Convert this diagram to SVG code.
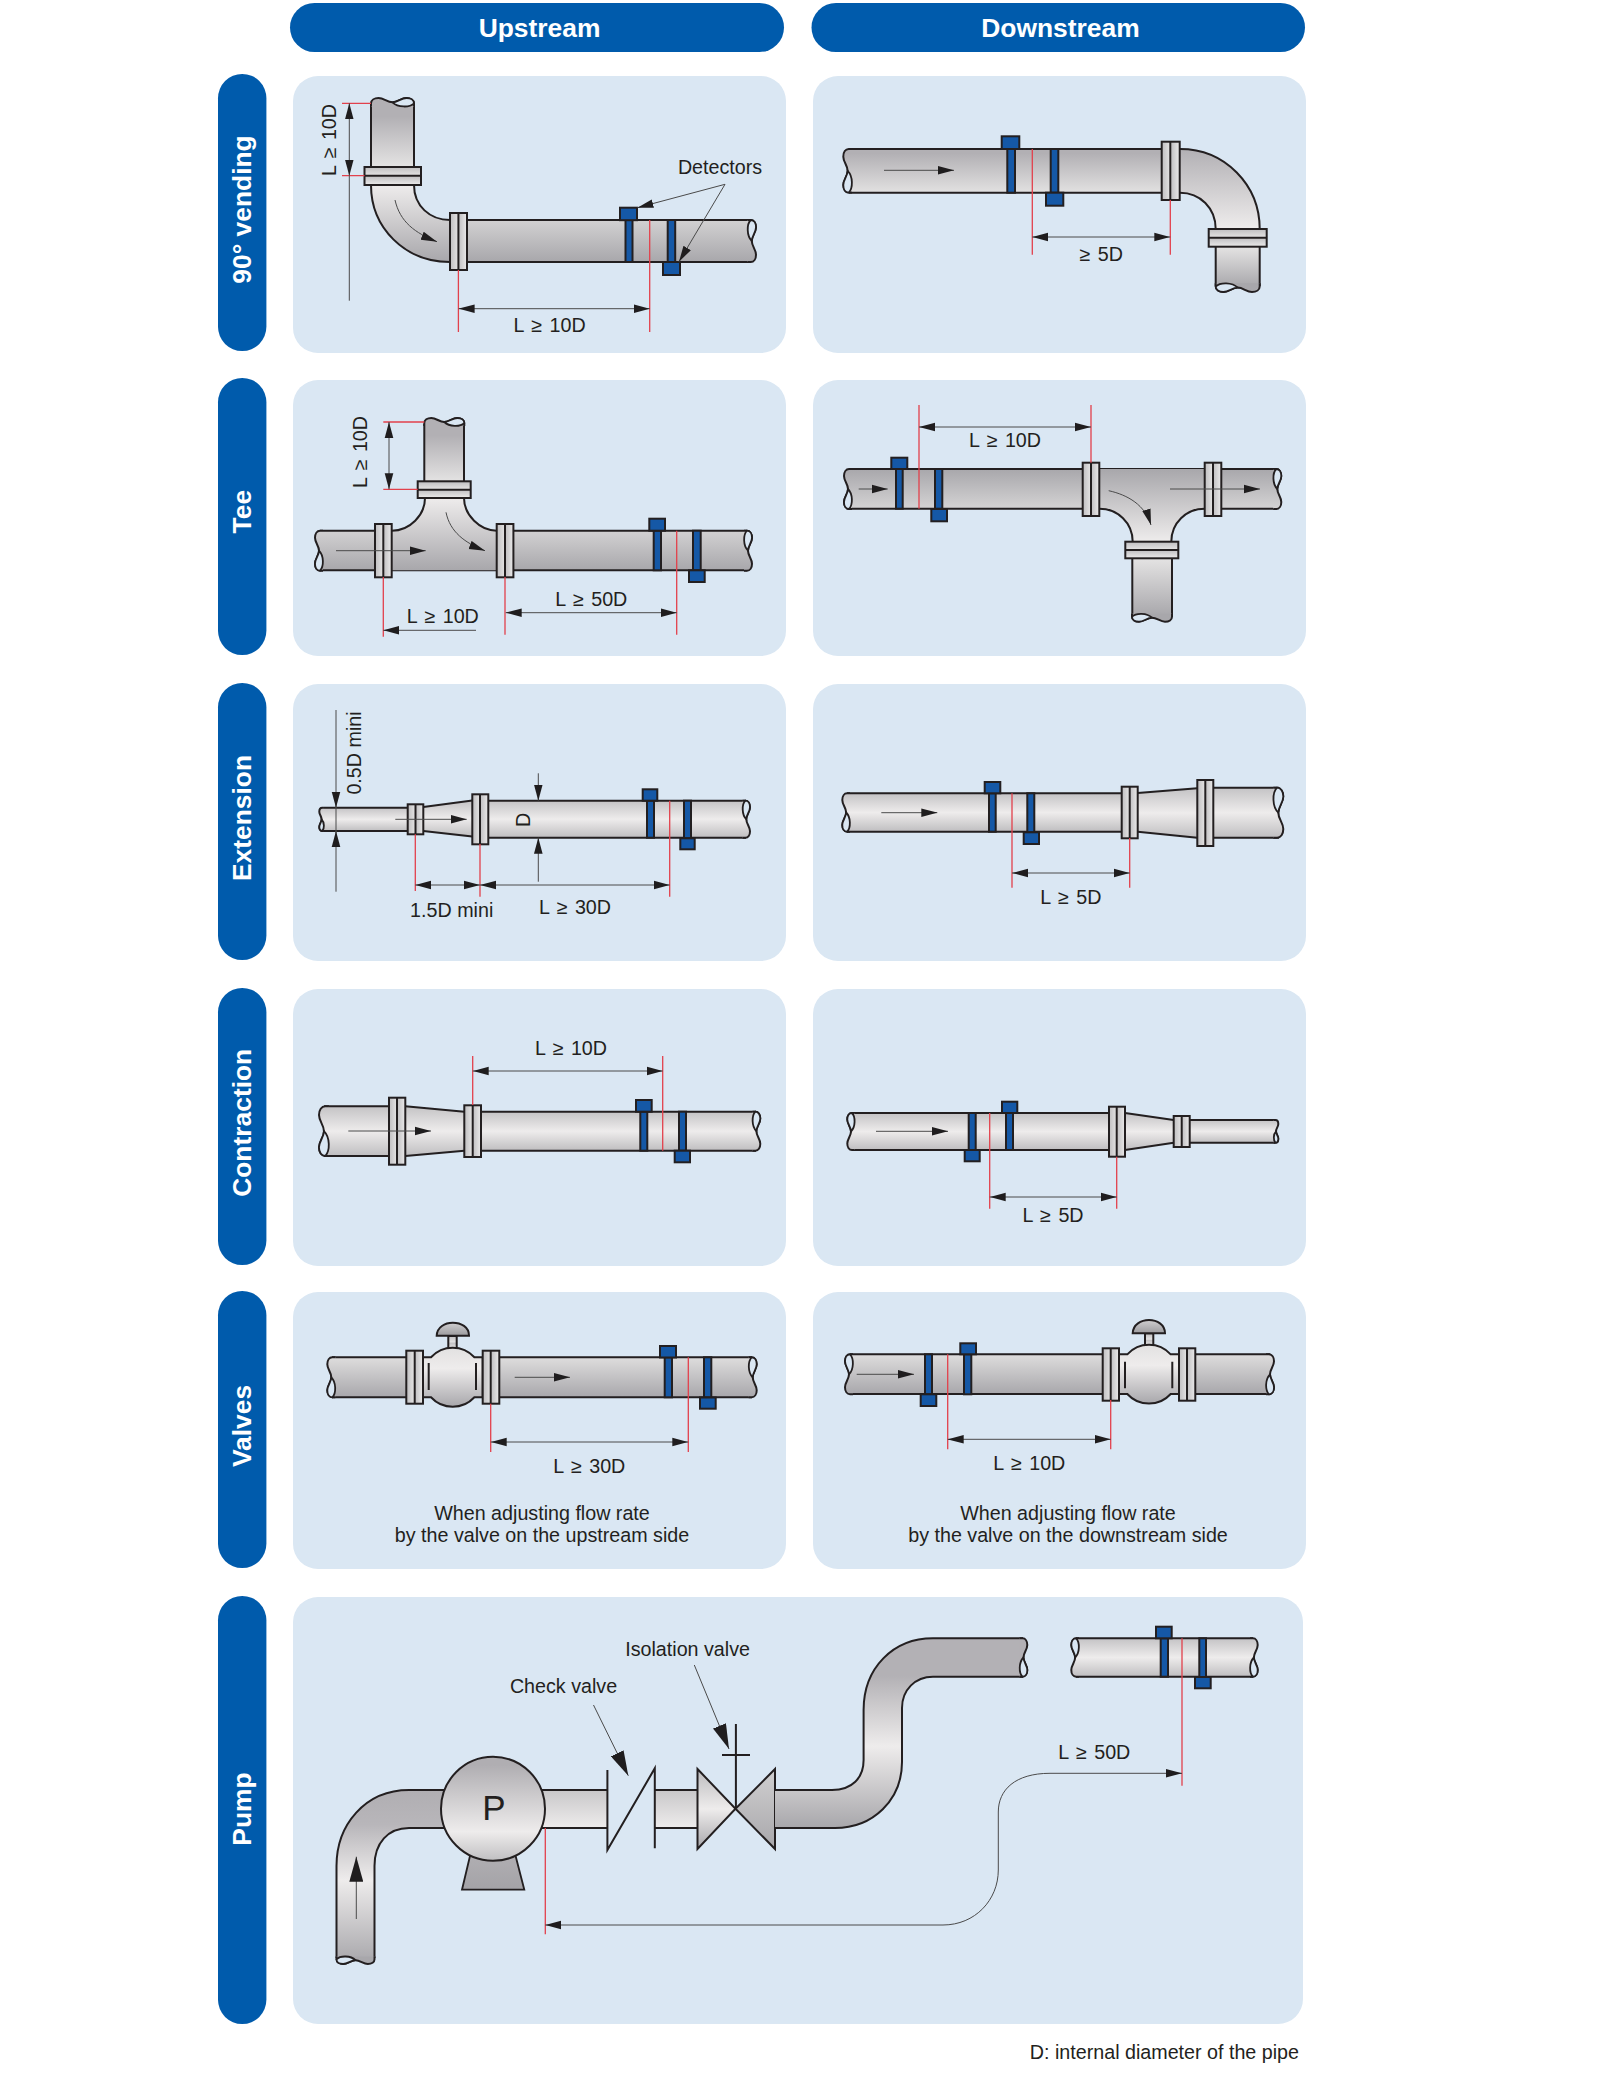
<svg xmlns="http://www.w3.org/2000/svg" xmlns:xlink="http://www.w3.org/1999/xlink" width="1600" height="2078" viewBox="0 0 1600 2078">
<style>
.pill{fill:#005bac}
.panel{fill:#dae7f3}
.h{font-family:"Liberation Sans",Arial,sans-serif;font-size:26.4px;font-weight:700;fill:#fff;text-anchor:middle}
.t{font-family:"Liberation Sans",Arial,sans-serif;font-size:19.7px;fill:#231f20;text-anchor:middle}
.w{word-spacing:2px}
.o{fill:none;stroke:#231f20;stroke-width:2;vector-effect:non-scaling-stroke}
.fl{stroke:#231f20;stroke-width:2;fill:url(#gFH)}
.flh{stroke:#231f20;stroke-width:2;fill:url(#gFV)}
.m{stroke:#231f20;stroke-width:2;fill:none}
.d{fill:#1558a6;stroke:#231f20;stroke-width:2}
.nf{stroke:none}
.lf{fill:#dae7f3;stroke:#231f20;stroke-width:1.8;vector-effect:non-scaling-stroke}
.r{fill:none;stroke:#e2414c;stroke-width:1.3}
.l{fill:none;stroke:#4a4a4a;stroke-width:1}
.a{fill:none;stroke:#4a4a4a;stroke-width:1;marker-end:url(#ah)}
.aa{fill:none;stroke:#4a4a4a;stroke-width:1;marker-start:url(#ah);marker-end:url(#ah)}
.al{fill:none;stroke:#4a4a4a;stroke-width:1;marker-end:url(#ahL)}
</style>
<defs>
<marker id="ah" markerUnits="userSpaceOnUse" markerWidth="16" markerHeight="10" viewBox="0 0 16 10" refX="16" refY="5" orient="auto-start-reverse"><path d="M0,0.7 L16,5 L0,9.3Z" fill="#1f1d1e"/></marker>
<marker id="ahL" markerUnits="userSpaceOnUse" markerWidth="25" markerHeight="14" viewBox="0 0 25 14" refX="25" refY="7" orient="auto"><path d="M0,0 L25,7 L0,14Z" fill="#1f1d1e"/></marker>
<linearGradient id="gLD" x1="0" y1="0" x2="0" y2="1"><stop offset="0" stop-color="#d2d1d2"/><stop offset="1" stop-color="#a8a7ab"/></linearGradient>
<linearGradient id="gDL" x1="0" y1="0" x2="0" y2="1"><stop offset="0.1" stop-color="#b2b0b4"/><stop offset="1" stop-color="#e2e1e1"/></linearGradient>
<linearGradient id="gDL2" x1="0" y1="0" x2="0" y2="1"><stop offset="0" stop-color="#a8a7ab"/><stop offset="1" stop-color="#d4d3d4"/></linearGradient>
<linearGradient id="gC" x1="0" y1="0" x2="0" y2="1"><stop offset="0" stop-color="#c4c3c5"/><stop offset="0.5" stop-color="#eeecec"/><stop offset="1" stop-color="#bfbec0"/></linearGradient>
<linearGradient id="gV" x1="0" y1="0" x2="0" y2="1"><stop offset="0" stop-color="#dedddd"/><stop offset="1" stop-color="#a8a7ab"/></linearGradient>
<linearGradient id="gUp" x1="0" y1="0" x2="0" y2="1"><stop offset="0.2" stop-color="#b2b0b4"/><stop offset="1" stop-color="#e4e3e3"/></linearGradient>
<linearGradient id="gDn" x1="0" y1="0" x2="0" y2="1"><stop offset="0" stop-color="#e4e3e3"/><stop offset="1" stop-color="#a8a7ab"/></linearGradient>
<linearGradient id="gTU" x1="0" y1="0" x2="0" y2="1"><stop offset="0" stop-color="#eeecec"/><stop offset="1" stop-color="#a8a7ab"/></linearGradient>
<linearGradient id="gTD" x1="0" y1="0" x2="0" y2="1"><stop offset="0" stop-color="#a8a7ab"/><stop offset="1" stop-color="#eeecec"/></linearGradient>
<linearGradient id="gEl" x1="0" y1="0" x2="0" y2="1"><stop offset="0" stop-color="#b2b0b4"/><stop offset="1" stop-color="#eeecec"/></linearGradient>
<linearGradient id="gFH" x1="0" y1="0" x2="1" y2="0"><stop offset="0" stop-color="#bfbec0"/><stop offset="0.45" stop-color="#e2e1e1"/><stop offset="0.55" stop-color="#c4c3c5"/><stop offset="1" stop-color="#ebeaea"/></linearGradient>
<linearGradient id="gFV" x1="0" y1="0" x2="0" y2="1"><stop offset="0" stop-color="#bfbec0"/><stop offset="0.45" stop-color="#e2e1e1"/><stop offset="0.55" stop-color="#c4c3c5"/><stop offset="1" stop-color="#ebeaea"/></linearGradient>
<linearGradient id="gB" x1="0" y1="0" x2="0" y2="1"><stop offset="0" stop-color="#e2e1e1"/><stop offset="0.35" stop-color="#eeecec"/><stop offset="1" stop-color="#a8a7ab"/></linearGradient>
<linearGradient id="gH" x1="0" y1="0" x2="0" y2="1"><stop offset="0" stop-color="#d0cfd0"/><stop offset="1" stop-color="#9c9b9e"/></linearGradient>
<linearGradient id="gP" x1="0" y1="0" x2="0" y2="1"><stop offset="0.08" stop-color="#b0aeb2"/><stop offset="0.72" stop-color="#eeecec"/><stop offset="1" stop-color="#c0bfc1"/></linearGradient>
<linearGradient id="gPL" gradientUnits="userSpaceOnUse" x1="0" y1="1790" x2="0" y2="1963"><stop offset="0" stop-color="#b0aeb2"/><stop offset="0.2" stop-color="#b8b6ba"/><stop offset="0.52" stop-color="#eeecec"/><stop offset="1" stop-color="#a8a7ab"/></linearGradient>
<linearGradient id="gS" gradientUnits="userSpaceOnUse" x1="0" y1="1638" x2="0" y2="1828"><stop offset="0.2" stop-color="#b3b1b5"/><stop offset="0.57" stop-color="#eeecec"/><stop offset="1" stop-color="#a8a7ab"/></linearGradient>
<linearGradient id="gO" x1="0" y1="0" x2="0" y2="1"><stop offset="0" stop-color="#c8c7c9"/><stop offset="1" stop-color="#eeecec"/></linearGradient>
<linearGradient id="gVL" x1="0" y1="0" x2="0" y2="1"><stop offset="0" stop-color="#bcbbbd"/><stop offset="0.5" stop-color="#eeecec"/><stop offset="1" stop-color="#a8a7ab"/></linearGradient>
<linearGradient id="gVR" x1="0" y1="0" x2="0" y2="1"><stop offset="0" stop-color="#d0cfd0"/><stop offset="1" stop-color="#a8a7ab"/></linearGradient>
<linearGradient id="gBs" x1="0" y1="0" x2="0" y2="1"><stop offset="0" stop-color="#b0aeb2"/><stop offset="1" stop-color="#a4a3a7"/></linearGradient>
<g id="eT"><path class="nf" d="M-8,0 H-5 C-2,0 0,3 0,7 C0,12 -4,15 -4,20 C-4,25 0,28 0,33 C0,37 -2,40 -5,40 H-8Z"/><path class="o" d="M-8,0 H-5 C-2,0 0,3 0,7 C0,12 -4,15 -4,20 C-4,25 0,28 0,33 C0,37 -2,40 -5,40 H-8"/><path class="lf" d="M-5,0 C-2,0 0,3 0,7 C0,12 -4,15 -4,20 C-9,15 -9,4 -5,0Z"/></g>
<g id="eB"><path class="nf" d="M-8,40 H-5 C-2,40 0,37 0,33 C0,28 -4,25 -4,20 C-4,15 0,12 0,7 C0,3 -2,0 -5,0 H-8Z"/><path class="o" d="M-8,40 H-5 C-2,40 0,37 0,33 C0,28 -4,25 -4,20 C-4,15 0,12 0,7 C0,3 -2,0 -5,0 H-8"/><path class="lf" d="M-5,40 C-2,40 0,37 0,33 C0,28 -4,25 -4,20 C-9,25 -9,36 -5,40Z"/></g>
</defs>

<g id="header-upstream"><rect class="pill" x="290" y="3" width="494" height="49" rx="24.5"/><text class="h" x="539.5" y="37">Upstream</text></g>
<g id="header-downstream"><rect class="pill" x="811.5" y="3" width="493.5" height="49" rx="24.5"/><text class="h" x="1060.5" y="37">Downstream</text></g>

<g id="row-90-vending"><rect class="pill" x="218" y="74" width="48.4" height="277" rx="24.2"/><text class="h" transform="translate(251,209.5) rotate(-90)">90° vending</text></g>
<g id="row-tee"><rect class="pill" x="218" y="378" width="48.4" height="277" rx="24.2"/><text class="h" transform="translate(251,511.7) rotate(-90)">Tee</text></g>
<g id="row-extension"><rect class="pill" x="218" y="683" width="48.4" height="277" rx="24.2"/><text class="h" transform="translate(251,818) rotate(-90)">Extension</text></g>
<g id="row-contraction"><rect class="pill" x="218" y="988" width="48.4" height="277" rx="24.2"/><text class="h" transform="translate(251,1122.8) rotate(-90)">Contraction</text></g>
<g id="row-valves"><rect class="pill" x="218" y="1291" width="48.4" height="277" rx="24.2"/><text class="h" transform="translate(251,1426) rotate(-90)">Valves</text></g>
<g id="row-pump"><rect class="pill" x="218" y="1596" width="48.4" height="428" rx="24.2"/><text class="h" transform="translate(251,1809) rotate(-90)">Pump</text></g>

<g id="panel-90-up">
<rect class="panel" x="293" y="76" width="493" height="277" rx="25"/>
<rect class="nf" x="371" y="104" width="43" height="63" fill="url(#gUp)"/>
<path class="o" d="M371,104V167M414,104V167"/>
<use href="#eB" transform="translate(371,98) rotate(-90) scale(1.075)" fill="#b2b0b4"/>
<path d="M371,185 C371,228 405,262 450,262 V220 C430,220 414,206 414,185Z" fill="url(#gTU)" class="nf"/>
<path class="o" d="M371,185 C371,228 405,262 450,262M450,220 C430,220 414,206 414,185"/>
<rect class="flh" x="364.5" y="167" width="56.5" height="18"/><path class="m" d="M364.5,175.7H421"/>
<rect class="nf" x="467" y="220" width="284" height="42" fill="url(#gLD)"/>
<path class="o" d="M467,220H751M467,262H751"/>
<use href="#eT" transform="translate(756,220) scale(1.05)" fill="url(#gLD)"/>
<rect class="fl" x="450" y="213" width="17" height="57"/><path class="m" d="M458.4,213V270"/>
<rect class="d" x="625.5" y="220" width="7" height="42"/><rect class="d" x="620" y="207.7" width="17" height="12.5"/>
<rect class="d" x="667.7" y="220" width="7.5" height="42"/><rect class="d" x="663" y="262" width="17" height="13"/>
<text class="t" x="720" y="174">Detectors</text>
<text class="t w" x="549.6" y="331.7">L ≥ 10D</text>
<text class="t w" transform="translate(336,140) rotate(-90)">L ≥ 10D</text>
</g>

<g id="panel-90-down">
<rect class="panel" x="813" y="76" width="493" height="277" rx="25"/>
<rect class="nf" x="849" y="149" width="313" height="43.7" fill="url(#gDL)"/>
<path class="o" d="M849,149H1162M849,192.7H1162"/>
<use href="#eB" transform="translate(843.3,149) scale(-1.09,1.09)" fill="url(#gDL)"/>
<path d="M1180,149 C1225,149 1259.7,185 1259.7,229 H1215.7 C1215.7,208 1200,192.7 1180,192.7Z" fill="url(#gEl)" class="nf"/>
<path class="o" d="M1180,149 C1225,149 1259.7,185 1259.7,229M1215.7,229 C1215.7,208 1200,192.7 1180,192.7"/>
<rect class="nf" x="1215.7" y="246.7" width="44" height="40" fill="url(#gDn)"/>
<path class="o" d="M1215.7,246.7V286M1259.7,246.7V286"/>
<use href="#eB" transform="translate(1259.7,292) rotate(90) scale(1.1)" fill="#a8a7ab"/>
<rect class="flh" x="1208.7" y="229" width="58" height="17.7"/><path class="m" d="M1208.7,237.7H1266.7"/>
<rect class="fl" x="1161.7" y="141.7" width="18" height="58.3"/><path class="m" d="M1170.3,141.7V200"/>
<rect class="d" x="1007.3" y="149" width="7.7" height="43.7"/><rect class="d" x="1001.7" y="136.3" width="17.6" height="12.7"/>
<rect class="d" x="1050.7" y="149" width="7.6" height="43.7"/><rect class="d" x="1046" y="192.7" width="17.3" height="13"/>
<text class="t w" x="1101.3" y="261">≥ 5D</text>
</g>

<g id="panel-tee-up">
<rect class="panel" x="293" y="380" width="493" height="276" rx="25"/>
<rect class="nf" x="320" y="530.7" width="427" height="39.6" fill="url(#gLD)"/>
<path class="o" d="M320,530.7H392M497,530.7H747M320,570.3H747"/>
<use href="#eB" transform="translate(315,530.7) scale(-1,1)" fill="url(#gLD)"/>
<use href="#eT" transform="translate(752,530.7)" fill="url(#gLD)"/>
<path d="M391.7,530.7 C410,530.7 425,515 425,498 H464 C464,515 480,530.7 496.7,530.7 V570.3 H391.7Z" fill="url(#gTU)" class="nf"/>
<path class="o" d="M391.7,530.7 C410,530.7 425,515 425,498M464,498 C464,515 480,530.7 496.7,530.7"/>
<rect class="nf" x="424.3" y="424" width="39.7" height="58" fill="url(#gUp)"/>
<path class="o" d="M424.3,424V482M464,424V482"/>
<use href="#eB" transform="translate(424.3,418) rotate(-90)" fill="#b2b0b4"/>
<rect class="flh" x="417.7" y="481.3" width="53" height="16.7"/><path class="m" d="M417.7,489.7H470.7"/>
<rect class="fl" x="375" y="524" width="16.7" height="53.3"/><path class="m" d="M383.3,524V577.3"/>
<rect class="fl" x="496.7" y="524" width="16.7" height="53.3"/><path class="m" d="M505,524V577.3"/>
<rect class="d" x="653.7" y="530.7" width="7.3" height="39.6"/><rect class="d" x="649.3" y="518.7" width="15.7" height="12"/>
<rect class="d" x="693" y="530.7" width="7.7" height="39.6"/><rect class="d" x="689" y="570.3" width="15.7" height="11.7"/>
<text class="t w" x="442.8" y="623.3">L ≥ 10D</text>
<text class="t w" x="591.3" y="605.7">L ≥ 50D</text>
<text class="t w" transform="translate(367,452) rotate(-90)">L ≥ 10D</text>
</g>

<g id="panel-tee-down">
<rect class="panel" x="813" y="380" width="493" height="276" rx="25"/>
<rect class="nf" x="849" y="469" width="428" height="39.7" fill="url(#gDL2)"/>
<path class="o" d="M849,469H1277M849,508.7H1083M1221,508.7H1277"/>
<use href="#eB" transform="translate(844,469) scale(-1,1)" fill="url(#gDL2)"/>
<use href="#eT" transform="translate(1281.3,469)" fill="url(#gDL2)"/>
<path d="M1099.3,469 H1204.7 V508.7 C1186,508.7 1171.3,523 1171.3,541.7 H1132.7 C1132.7,523 1118,508.7 1099.3,508.7Z" fill="url(#gTD)" class="nf"/>
<path class="o" d="M1099.3,508.7 C1118,508.7 1132.7,523 1132.7,541.7M1171.3,541.7 C1171.3,523 1186,508.7 1204.7,508.7"/>
<rect class="nf" x="1132.3" y="558.3" width="39.7" height="58" fill="url(#gDn)"/>
<path class="o" d="M1132.3,558.3V616M1172,558.3V616"/>
<use href="#eB" transform="translate(1172,621.7) rotate(90)" fill="#a8a7ab"/>
<rect class="flh" x="1125.3" y="541.7" width="53" height="16.6"/><path class="m" d="M1125.3,550H1178.3"/>
<rect class="fl" x="1082.7" y="462.7" width="16.6" height="53.3"/><path class="m" d="M1091,462.7V516"/>
<rect class="fl" x="1204.7" y="462.7" width="16.6" height="53.3"/><path class="m" d="M1213,462.7V516"/>
<rect class="d" x="896" y="469" width="6.7" height="39.7"/><rect class="d" x="891.3" y="457.7" width="16" height="11.3"/>
<rect class="d" x="935" y="469" width="7.3" height="39.7"/><rect class="d" x="931.3" y="509" width="15.7" height="12.3"/>
<text class="t w" x="1005" y="447">L ≥ 10D</text>
</g>

<g id="panel-ext-up">
<rect class="panel" x="293" y="684" width="493" height="277" rx="25"/>
<rect class="nf" x="324" y="807.7" width="84" height="23.3" fill="url(#gC)"/>
<path class="o" d="M324,807.7H408M324,831H408"/>
<use href="#eB" transform="translate(319.3,807.7) scale(-0.583,0.583)" fill="url(#gC)"/>
<path d="M423.3,807 L472.3,800.5 V836.5 L423.3,831Z" fill="url(#gC)" class="nf"/>
<path class="o" d="M423.3,807 L472.3,800.5M423.3,831 L472.3,836.5"/>
<rect class="nf" x="488" y="800.7" width="258" height="37" fill="url(#gC)"/>
<path class="o" d="M488,800.7H746M488,837.7H746"/>
<use href="#eT" transform="translate(750,800.7) scale(0.925)" fill="url(#gC)"/>
<rect class="fl" x="407.7" y="804.3" width="15.6" height="30"/><path class="m" d="M415.5,804.3V834.3"/>
<rect class="fl" x="472.3" y="794.3" width="16" height="50"/><path class="m" d="M480,794.3V844.3"/>
<rect class="d" x="647" y="800.7" width="7" height="37"/><rect class="d" x="642.7" y="789.3" width="14.6" height="11.4"/>
<rect class="d" x="684" y="800.7" width="7" height="37.6"/><rect class="d" x="680.3" y="838.3" width="14.4" height="11"/>
<text class="t" x="451.7" y="916.7">1.5D mini</text>
<text class="t w" x="575" y="914">L ≥ 30D</text>
<text class="t" transform="translate(361,753) rotate(-90)">0.5D mini</text>
<text class="t" transform="translate(530,820) rotate(-90)">D</text>
</g>

<g id="panel-ext-down">
<rect class="panel" x="813" y="684" width="493" height="277" rx="25"/>
<rect class="nf" x="847" y="793.3" width="275" height="38.4" fill="url(#gC)"/>
<path class="o" d="M847,793.3H1122M847,831.7H1122"/>
<use href="#eB" transform="translate(842.3,793.3) scale(-0.96,0.96)" fill="url(#gC)"/>
<path d="M1137.7,793 L1197.3,788.3 V837.7 L1137.7,831.7Z" fill="url(#gC)" class="nf"/>
<path class="o" d="M1137.7,793 L1197.3,788.3M1137.7,831.7 L1197.3,837.7"/>
<rect class="nf" x="1213" y="787.7" width="66" height="50" fill="url(#gC)"/>
<path class="o" d="M1213,787.7H1279M1213,837.7H1279"/>
<use href="#eT" transform="translate(1283.3,787.7) scale(1.25)" fill="url(#gC)"/>
<rect class="fl" x="1121.7" y="786.7" width="16" height="51.6"/><path class="m" d="M1129.7,786.7V838.3"/>
<rect class="fl" x="1197.3" y="780" width="16" height="66"/><path class="m" d="M1205.3,780V846"/>
<rect class="d" x="989" y="793.3" width="6.7" height="38.4"/><rect class="d" x="984.7" y="782" width="15.6" height="11.3"/>
<rect class="d" x="1027.3" y="793.3" width="7" height="39"/><rect class="d" x="1023.7" y="832.3" width="15.3" height="11.7"/>
<text class="t w" x="1070.8" y="904">L ≥ 5D</text>
</g>

<g id="panel-con-up">
<rect class="panel" x="293" y="989" width="493" height="277" rx="25"/>
<rect class="nf" x="324" y="1106.3" width="66" height="49.7" fill="url(#gC)"/>
<path class="o" d="M324,1106.3H390M324,1156H390"/>
<use href="#eB" transform="translate(319,1106.3) scale(-1.243,1.243)" fill="url(#gC)"/>
<path d="M405.3,1106.3 L464.3,1111.7 V1150.7 L405.3,1156Z" fill="url(#gC)" class="nf"/>
<path class="o" d="M405.3,1106.3 L464.3,1111.7M405.3,1156 L464.3,1150.7"/>
<rect class="nf" x="481" y="1111.7" width="275" height="39" fill="url(#gC)"/>
<path class="o" d="M481,1111.7H756M481,1150.7H756"/>
<use href="#eT" transform="translate(760.3,1111.7) scale(0.975)" fill="url(#gC)"/>
<rect class="fl" x="389" y="1097.7" width="16.3" height="67"/><path class="m" d="M397,1097.7V1164.7"/>
<rect class="fl" x="464.3" y="1105.3" width="16.7" height="51.7"/><path class="m" d="M472.7,1105.3V1157"/>
<rect class="d" x="640.3" y="1111.7" width="7" height="39"/><rect class="d" x="636" y="1100" width="15.7" height="11.7"/>
<rect class="d" x="679" y="1111.7" width="7" height="39"/><rect class="d" x="674.7" y="1150.7" width="15.3" height="11.6"/>
<text class="t w" x="571" y="1055.3">L ≥ 10D</text>
</g>

<g id="panel-con-down">
<rect class="panel" x="813" y="989" width="493" height="277" rx="25"/>
<rect class="nf" x="852" y="1113" width="258" height="37" fill="url(#gC)"/>
<path class="o" d="M852,1113H1110M852,1150H1110"/>
<use href="#eT" transform="translate(847.3,1113) scale(-0.925,0.925)" fill="url(#gC)"/>
<path d="M1125,1113 L1173.7,1120 V1142.7 L1125,1150Z" fill="url(#gC)" class="nf"/>
<path class="o" d="M1125,1113 L1173.7,1120M1125,1150 L1173.7,1142.7"/>
<rect class="nf" x="1189" y="1120" width="86" height="22.7" fill="url(#gC)"/>
<path class="o" d="M1189,1120H1275M1189,1142.7H1275"/>
<use href="#eB" transform="translate(1278.3,1120) scale(0.5675)" fill="url(#gC)"/>
<rect class="fl" x="1109" y="1106.7" width="16" height="50"/><path class="m" d="M1116.7,1106.7V1156.7"/>
<rect class="fl" x="1173.7" y="1116" width="16" height="31"/><path class="m" d="M1181.7,1116V1147"/>
<rect class="d" x="968.7" y="1113" width="7" height="37"/><rect class="d" x="964.7" y="1150" width="15" height="11.3"/>
<rect class="d" x="1006" y="1113" width="7" height="37"/><rect class="d" x="1002" y="1101.7" width="15.3" height="11.3"/>
<text class="t w" x="1053" y="1222">L ≥ 5D</text>
</g>

<g id="panel-valve-up">
<rect class="panel" x="293" y="1292" width="493" height="277" rx="25"/>
<rect class="nf" x="332" y="1357.3" width="420" height="40" fill="url(#gV)"/>
<path class="o" d="M332,1357.3H407M499,1357.3H752M332,1397.3H407M499,1397.3H752"/>
<use href="#eB" transform="translate(327.3,1357.3) scale(-1,1)" fill="url(#gV)"/>
<use href="#eT" transform="translate(756.7,1357.3)" fill="url(#gV)"/>
<rect class="flh" x="448.3" y="1336" width="8.4" height="13"/>
<path d="M436.7,1335.7 C437,1327 445,1322.7 452.8,1322.7 C461,1322.7 469,1327 469,1335.7Z" fill="url(#gH)" stroke="#231f20" stroke-width="2"/>
<path d="M423,1357.3 H431 A29.5,29.5 0 0 1 474.4,1357.3 H482.7 V1397.3 H474.4 A29.5,29.5 0 0 1 431,1397.3 H423Z" fill="url(#gB)" stroke="#231f20" stroke-width="2"/>
<path class="m" d="M428.7,1363V1390M476,1363V1390"/>
<rect class="fl" x="406.3" y="1350.7" width="16.7" height="53"/><path class="m" d="M414.7,1350.7V1403.7"/>
<rect class="fl" x="482.7" y="1350.7" width="16.6" height="53"/><path class="m" d="M490.7,1350.7V1403.7"/>
<rect class="d" x="664.7" y="1357.3" width="7.3" height="40"/><rect class="d" x="660" y="1346" width="16" height="11.5"/>
<rect class="d" x="704" y="1357.3" width="7.3" height="40"/><rect class="d" x="700" y="1397.5" width="15.7" height="11.2"/>
<text class="t w" x="589.3" y="1472.7">L ≥ 30D</text>
<text class="t" x="542" y="1520">When adjusting flow rate</text>
<text class="t" x="542" y="1541.7">by the valve on the upstream side</text>
</g>

<g id="panel-valve-down">
<rect class="panel" x="813" y="1292" width="493" height="277" rx="25"/>
<rect class="nf" x="850" y="1354.3" width="420" height="39.7" fill="url(#gV)"/>
<path class="o" d="M850,1354.3H1103M1195,1354.3H1270M850,1394H1103M1195,1394H1270"/>
<use href="#eT" transform="translate(845,1354.3) scale(-1,1)" fill="url(#gV)"/>
<use href="#eB" transform="translate(1274,1354.3)" fill="url(#gV)"/>
<rect class="flh" x="1145" y="1333.3" width="8.3" height="13"/>
<path d="M1132.7,1333.3 C1133,1324.5 1141,1320 1149,1320 C1157,1320 1165,1324.5 1165,1333.3Z" fill="url(#gH)" stroke="#231f20" stroke-width="2"/>
<path d="M1119,1354.3 H1127.3 A29.3,29.3 0 0 1 1170.7,1354.3 H1179 V1394 H1170.7 A29.3,29.3 0 0 1 1127.3,1394 H1119Z" fill="url(#gB)" stroke="#231f20" stroke-width="2"/>
<path class="m" d="M1125,1361.7V1388.3M1172.3,1361.7V1388.3"/>
<rect class="fl" x="1102.7" y="1348.3" width="16.3" height="52.4"/><path class="m" d="M1110.7,1348.3V1400.7"/>
<rect class="fl" x="1179" y="1348.3" width="16.3" height="52.4"/><path class="m" d="M1187,1348.3V1400.7"/>
<rect class="d" x="925" y="1354.3" width="7" height="40"/><rect class="d" x="920.7" y="1394.3" width="15.6" height="11.7"/>
<rect class="d" x="964" y="1354.3" width="7.3" height="40"/><rect class="d" x="960.3" y="1343.3" width="15.7" height="11"/>
<text class="t w" x="1029.3" y="1470">L ≥ 10D</text>
<text class="t" x="1068" y="1520">When adjusting flow rate</text>
<text class="t" x="1068" y="1541.7">by the valve on the downstream side</text>
</g>

<g id="panel-pump">
<rect class="panel" x="293" y="1597" width="1010" height="427" rx="25"/>
<path d="M336.5,1958 V1866 C336.5,1825 365,1790 409,1790 H450 V1828 H409 C388,1828 374.5,1843 374.5,1866 V1958Z" fill="url(#gPL)" class="nf"/>
<path class="o" d="M336.5,1958 V1866 C336.5,1825 365,1790 409,1790 H450M450,1828 H409 C388,1828 374.5,1843 374.5,1866 V1958"/>
<use href="#eB" transform="translate(374.5,1964) rotate(90) scale(0.95)" fill="#a8a7ab"/>
<path d="M470,1856 H515.6 L524.3,1889.7 H462Z" fill="url(#gBs)" stroke="#231f20" stroke-width="1.8"/>
<rect class="nf" x="540" y="1790" width="67.4" height="38" fill="url(#gO)"/>
<path class="o" d="M540,1790H607.4M540,1828H607.4"/>
<circle cx="493" cy="1808.8" r="52" fill="url(#gP)" stroke="#231f20" stroke-width="2"/>
<text transform="translate(494,1820)" font-family="Liberation Sans, Arial, sans-serif" font-size="35" fill="#231f20" text-anchor="middle">P</text>
<rect class="nf" x="654.8" y="1790" width="43" height="38" fill="url(#gO)"/>
<path class="o" d="M654.8,1790H697.5M654.8,1828H697.5"/>
<path class="m" d="M607.4,1770V1850L654.8,1768.3V1848.3"/>
<path d="M697.5,1769 L735.5,1808.8 L697.5,1849Z" fill="url(#gVL)" stroke="#231f20" stroke-width="2"/>
<path d="M775,1769 L735.5,1808.8 L775,1849Z" fill="url(#gVR)" stroke="#231f20" stroke-width="2"/>
<path class="m" d="M735.9,1724V1808M722,1755H750"/>
<path d="M775,1790 H832 C852,1790 863.6,1778 863.6,1760 V1710 C863.6,1668 893,1638.3 933,1638.3 H1023 V1676.7 H933 C915,1676.7 902,1690 902,1708 V1762 C902,1800 873,1828 835,1828 H775Z" fill="url(#gS)" class="nf"/>
<path class="o" d="M775,1790 H832 C852,1790 863.6,1778 863.6,1760 V1710 C863.6,1668 893,1638.3 933,1638.3 H1023M1023,1676.7 H933 C915,1676.7 902,1690 902,1708 V1762 C902,1800 873,1828 835,1828 H775"/>
<use href="#eB" transform="translate(1027.3,1638.3) scale(0.96)" fill="#b3b1b5"/>
<rect class="nf" x="1076" y="1638.3" width="177" height="38.4" fill="url(#gC)"/>
<path class="o" d="M1076,1638.3H1253M1076,1676.7H1253"/>
<use href="#eT" transform="translate(1071.3,1638.3) scale(-0.96,0.96)" fill="url(#gC)"/>
<use href="#eB" transform="translate(1257.7,1638.3) scale(0.96)" fill="url(#gC)"/>
<rect class="d" x="1160.7" y="1638.3" width="7.3" height="38.4"/><rect class="d" x="1156" y="1626.7" width="15.7" height="11.6"/>
<rect class="d" x="1199.3" y="1638.3" width="6.7" height="38.7"/><rect class="d" x="1195" y="1677" width="15.7" height="11.3"/>
<text class="t" x="563.5" y="1693.3">Check valve</text>
<text class="t" x="687.6" y="1656">Isolation valve</text>
<text class="t w" x="1094.3" y="1759">L ≥ 50D</text>
</g>

<text id="footnote" class="t" x="1299" y="2059.3" style="text-anchor:end">D: internal diameter of the pipe</text>

<g id="connectors">
<path class="r" d="M342,103.3H371M342,175.7H364.5M458.4,270V332M649.7,220V332"/>
<path class="l" d="M349.3,300.7V175.7"/><path class="aa" d="M349.3,103.3V175.7"/>
<path class="aa" d="M458.6,308.7H649.7"/>
<path class="a" d="M725,184.3L637.4,207.7"/><path class="a" d="M725,184.3L679,261.7"/>
<path class="a" d="M395,200C400,222 415,233 437,241.7"/>

<path class="r" d="M1032.3,149V254.7M1170.3,200V254.7"/>
<path class="aa" d="M1032.3,237H1170.3"/>
<path class="a" d="M884,170.3H954"/>

<path class="r" d="M383.3,422H424.3M383.3,489.3H417.7M383.3,577V636.7M505,577V634.7M676.7,530.7V634.7"/>
<path class="aa" d="M389,422V489.3"/>
<path class="a" d="M476,630.3H383.3"/>
<path class="aa" d="M505.7,612.7H676.7"/>
<path class="a" d="M336,550.7H425.7"/>
<path class="a" d="M446,512.3C450,532 465,543 485,550.7"/>

<path class="r" d="M919,405V508.7M1091,405V462.7"/>
<path class="aa" d="M919,427H1091"/>
<path class="a" d="M858.7,489H887.7"/><path class="a" d="M1170,489H1260"/>
<path class="a" d="M1108.7,490.7C1128,495 1145,505 1151,525"/>

<path class="a" d="M336,710V807.7"/><path class="a" d="M336,891.7V831"/><path class="l" d="M336,805V834"/>
<path class="a" d="M538.3,773.3V800.7"/><path class="a" d="M538.3,881.7V837.7"/>
<path class="r" d="M415.3,834.3V891M480,844V896.7M669.7,800.7V896.7"/>
<path class="aa" d="M415.3,885H480"/><path class="aa" d="M480,885H669.7"/>
<path class="a" d="M395.3,819.3H466.7"/>

<path class="r" d="M1012,793.3V887.7M1129.7,838V887.7"/>
<path class="aa" d="M1012,873H1129.7"/>
<path class="a" d="M881.3,812.7H937.3"/>

<path class="r" d="M472.7,1056V1105M662.7,1056V1150.7"/>
<path class="aa" d="M472.7,1071H662.7"/>
<path class="a" d="M348.3,1131H431"/>

<path class="r" d="M989.7,1113V1208.7M1116.7,1156.7V1208.7"/>
<path class="aa" d="M989.7,1197H1116.7"/>
<path class="a" d="M876,1131.3H948"/>

<path class="r" d="M490.7,1403.7V1452M688.3,1357.3V1452"/>
<path class="aa" d="M490.7,1442H688.3"/>
<path class="a" d="M514.7,1377.3H570"/>

<path class="r" d="M947.7,1354.3V1449.3M1110.7,1400V1449.3"/>
<path class="aa" d="M947.7,1439.3H1110.7"/>
<path class="a" d="M856.7,1374.3H914"/>

<path class="r" d="M1182,1638.3V1785.7M545.3,1828V1934.3"/>
<path class="aa" d="M545.3,1925H943C975,1925 998.3,1900 998.3,1870V1812C998.3,1790 1015,1773.3 1050,1773.3H1182"/>
<path class="al" d="M356.3,1919V1856.7"/>
<path class="al" d="M593.5,1705L628.3,1775.7"/>
<path class="al" d="M694.3,1665L729,1749"/>
</g>
</svg>
